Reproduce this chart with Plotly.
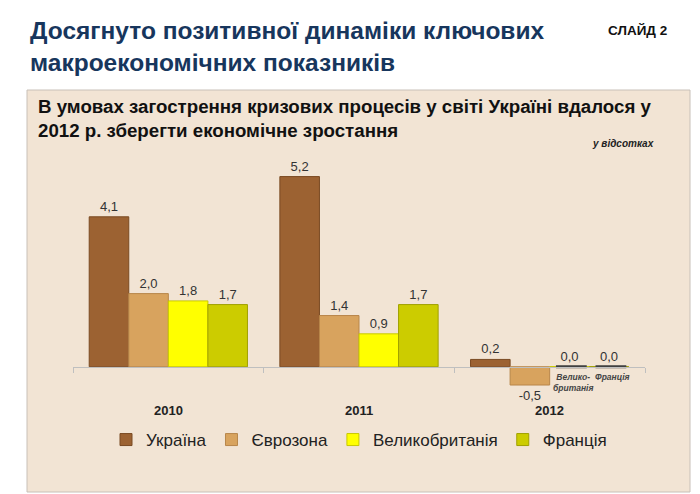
import plotly.graph_objects as go

years = ["2010", "2011", "2012"]
series_names = ["Україна", "Єврозона", "Великобританія", "Франція"]
ukraine = [4.1, 5.2, 0.2]
eurozone = [2.0, 1.4, -0.5]
uk = [1.8, 0.9, 0.0]
france = [1.7, 1.7, 0.0]
values = [ukraine, eurozone, uk, france]
colors = ["#9C6232", "#D8A35E", "#FFFF00", "#CCCC00"]
line_colors = ["#7A4A22", "#B8864A", "#C8C800", "#A0A000"]
small_names = {2: "Велико-<br>британія", 3: "Франція"}

W, H = 700, 494
L, R, T, B = 73, 55, 140, 98
PW, PH = W - L - R, H - T - B
yr = [-0.8, 6.2]
bargap = 0.17
FONT = "Liberation Sans, Arial"


def px(x):
    return (x - L) / PW


def py(y):
    return (H - B - y) / PH


bw = (1 - bargap) / 4


def slot_x(cat_index, k):
    return cat_index - (1 - bargap) / 2 + bw * (k + 0.5)


fig = go.Figure()
for k, (name, vals, c, lc) in enumerate(zip(series_names, values, colors, line_colors)):
    fig.add_trace(go.Bar(
        name=name, x=years, y=vals,
        marker=dict(color=c, line=dict(color=lc, width=1)),
        texttemplate="%{y:.1f}", textposition="outside",
        textfont=dict(size=13, color="#333333", family=FONT),
        cliponaxis=False, legendgroup=name,
    ))

# zero values are shown as short dark dashes at the zero level
zx, zy = [], []
for k, vals in enumerate(values):
    for i, v in enumerate(vals):
        if v == 0:
            zx.append(slot_x(i, k) + 0.01)
            zy.append(v)
fig.add_trace(go.Scatter(
    x=zx, y=zy, mode="markers", showlegend=False, hoverinfo="skip", cliponaxis=False,
    marker=dict(symbol="line-ew", size=22, line=dict(width=3, color="#404040")),
    xaxis="x2",
))

ann = []
for k, t in small_names.items():
    ann.append(dict(x=slot_x(2, k) + 0.02, y=0, xref="x2", yref="y", text="<i><b>" + t + "</b></i>",
                    showarrow=False, yanchor="top", yshift=-3,
                    font=dict(size=8.5, color="#444444", family=FONT)))
for i, yv in enumerate(years):
    ann.append(dict(x=i, y=0, xref="x2", yref="y", text="<b>" + yv + "</b>",
                    showarrow=False, yshift=-44,
                    font=dict(size=13, color="#222222", family=FONT)))

ann += [
    dict(x=px(28), y=py(15), xref="paper", yref="paper", xanchor="left", yanchor="top",
         align="left", showarrow=False,
         text="<b>Досягнуто позитивної динаміки ключових<br>макроекономічних показників</b>",
         font=dict(size=24.5, color="#17365D", family=FONT)),
    dict(x=px(669), y=py(30), xref="paper", yref="paper", xanchor="right", yanchor="middle",
         showarrow=False, text="<b>СЛАЙД 2</b>",
         font=dict(size=13.5, color="#111111", family=FONT)),
    dict(x=px(36), y=py(94), xref="paper", yref="paper", xanchor="left", yanchor="top",
         align="left", showarrow=False,
         text="<b>В умовах загострення кризових процесів у світі Україні вдалося у<br>2012 р. зберегти економічне зростання</b>",
         font=dict(size=18.7, color="#111111", family=FONT)),
    dict(x=px(656), y=py(143), xref="paper", yref="paper", xanchor="right", yanchor="middle",
         showarrow=False, text="<b><i>у відсотках</i></b>",
         font=dict(size=10, color="#222222", family=FONT)),
]

fig.update_layout(
    width=W, height=H,
    margin=dict(l=L, r=R, t=T, b=B),
    paper_bgcolor="white", plot_bgcolor="rgba(0,0,0,0)",
    barmode="group", bargap=bargap, bargroupgap=0,
    separators=", ",
    font=dict(family=FONT, color="#333333"),
    showlegend=True,
    legend=dict(orientation="h", x=px(106), y=py(440), xanchor="left", yanchor="middle",
                font=dict(size=17, color="#222222", family=FONT), bgcolor="rgba(0,0,0,0)",
                itemclick=False, tracegroupgap=0),
    xaxis=dict(type="category", tickson="boundaries", ticks="outside", ticklen=5,
               tickcolor="#BFBFBF", showline=True, linecolor="#BFBFBF", linewidth=1,
               showticklabels=False, showgrid=False, anchor="free",
               position=(0 - yr[0]) / (yr[1] - yr[0]), range=[-0.5, 2.5],
               categoryorder="array", categoryarray=years),
    xaxis2=dict(range=[-0.5, 2.5], overlaying="x", visible=False, showgrid=False,
                zeroline=False),
    yaxis=dict(range=yr, visible=False, showgrid=False, zeroline=False),
    annotations=ann,
    shapes=[dict(type="rect", xref="paper", yref="paper", layer="below",
                 x0=px(27), x1=px(690), y0=py(492), y1=py(90),
                 fillcolor="#F2E4D4", line=dict(color="#C8C0B8", width=1))],
)

fig.write_html("out.html", config={"displayModeBar": False},
               post_script="document.body.style.margin='0';")
